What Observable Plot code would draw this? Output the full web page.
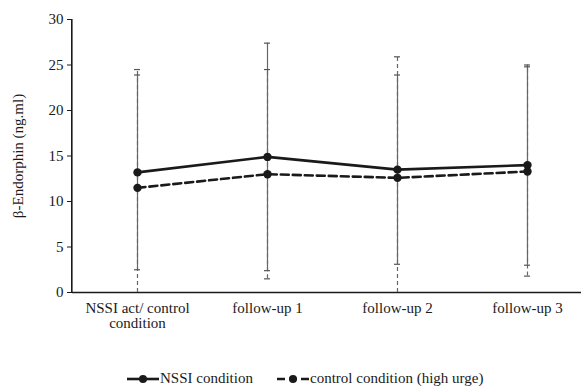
<!DOCTYPE html>
<html>
<head>
<meta charset="utf-8">
<script src="https://cdn.jsdelivr.net/npm/d3@7"></script>
<script src="https://cdn.jsdelivr.net/npm/@observablehq/plot@0.6"></script>
<style>
  html, body { margin: 0; padding: 0; background: #fff; }
  body { width: 581px; height: 388px; overflow: hidden; font-family: "Liberation Serif", serif; }
  #chart svg, #chart svg text { font-family: "Liberation Serif", serif !important; font-size: 15px !important; }
  #legend { position: relative; height: 43px; font-size: 15px; color: #1a1a1a; }
  .item { position: absolute; top: 25px; display: flex; align-items: center; }
  .item svg { margin-right: 1px; }
</style>
</head>
<body>
<div id="chart"></div>
<div id="legend"></div>
<script>
const categories = ["NSSI act/ control\ncondition", "follow-up 1", "follow-up 2", "follow-up 3"];
const seriesNames = ["NSSI condition", "control condition (high urge)"];
const nssiMean = [13.2, 14.9, 13.5, 14.0];
const nssiSD = [10.7, 12.5, 10.4, 11.0];
const controlMean = [11.5, 13.0, 12.6, 13.3];
const controlSD = [13.0, 11.5, 13.3, 11.5];
const yTicks = [0, 5, 10, 15, 20, 25, 30];
const yExtent = [0, 30];

const rows = [];
categories.forEach((c, i) => {
  rows.push({cat: c, series: seriesNames[0], mean: nssiMean[i], lo: Math.max(0, nssiMean[i] - nssiSD[i]), hi: nssiMean[i] + nssiSD[i]});
  rows.push({cat: c, series: seriesNames[1], mean: controlMean[i], lo: Math.max(0, controlMean[i] - controlSD[i]), hi: controlMean[i] + controlSD[i]});
});
const nssi = rows.filter(d => d.series === seriesNames[0]);
const ctrl = rows.filter(d => d.series === seriesNames[1]);

const chart = Plot.plot({
  width: 581,
  height: 345,
  marginLeft: 72,
  marginRight: 0,
  marginTop: 19,
  marginBottom: 53,
  style: {fontFamily: "'Liberation Serif', serif", fontSize: "15px", color: "#1a1a1a", background: "#fff", overflow: "visible"},
  x: {type: "band", domain: categories, range: [72, 592], padding: 0, tickSize: 0, tickPadding: 10, label: null},
  y: {domain: yExtent, ticks: yTicks, tickSize: 5, tickPadding: 4, label: "β-Endorphin (ng.ml)", labelAnchor: "center", labelOffset: 60, labelArrow: "none"},
  marks: [
    Plot.ruleY([0], {stroke: "#1a1a1a", strokeWidth: 1.5}),
    // error bars
    Plot.ruleX(nssi, {x: "cat", y1: "lo", y2: "hi", stroke: "#666", strokeWidth: 1.2}),
    Plot.ruleX(ctrl, {x: "cat", y1: "lo", y2: "hi", stroke: "#666", strokeWidth: 1.2, strokeDasharray: "4,3"}),
    Plot.tickY(rows.filter(d => d.lo > 0), {x: "cat", y: "lo", insetLeft: 62, insetRight: 62, stroke: "#555", strokeWidth: 1.2}),
    Plot.tickY(rows, {x: "cat", y: "hi", insetLeft: 62, insetRight: 62, stroke: "#555", strokeWidth: 1.2}),
    // lines
    Plot.line(nssi, {x: "cat", y: "mean", stroke: "#1a1a1a", strokeWidth: 2.6}),
    Plot.line(ctrl, {x: "cat", y: "mean", stroke: "#1a1a1a", strokeWidth: 2.6, strokeDasharray: "8,4"}),
    Plot.dot(rows, {x: "cat", y: "mean", r: 4.2, fill: "#1a1a1a", stroke: "none"})
  ]
});
document.getElementById("chart").appendChild(chart);

// y-axis line drawn as a filled rect from the chart's own scales, appended last
const ys = chart.scale("y");
const xr = chart.scale("x").range;
const yTop = ys.apply(yExtent[1]);
const yBot = ys.apply(yExtent[0]);
const ns = "http://www.w3.org/2000/svg";
const axisRect = document.createElementNS(ns, "rect");
axisRect.setAttribute("x", xr[0] - 1);
axisRect.setAttribute("y", yTop);
axisRect.setAttribute("width", 1.6);
axisRect.setAttribute("height", yBot - yTop);
axisRect.setAttribute("fill", "#1a1a1a");
axisRect.setAttribute("stroke", "none");
chart.appendChild(axisRect);

// legend
const legend = document.getElementById("legend");
const lefts = [127, 277];
seriesNames.forEach((name, i) => {
  const div = document.createElement("div");
  div.className = "item";
  div.style.left = lefts[i] + "px";
  const dash = i === 1 ? ' stroke-dasharray="8,4"' : '';
  div.innerHTML = `<svg width="32" height="10"><line x1="0" x2="32" y1="5" y2="5" stroke="#1a1a1a" stroke-width="2.6"${dash}/><circle cx="16" cy="5" r="4" fill="#1a1a1a"/></svg><span>${name}</span>`;
  legend.appendChild(div);
});
</script>
</body>
</html>
